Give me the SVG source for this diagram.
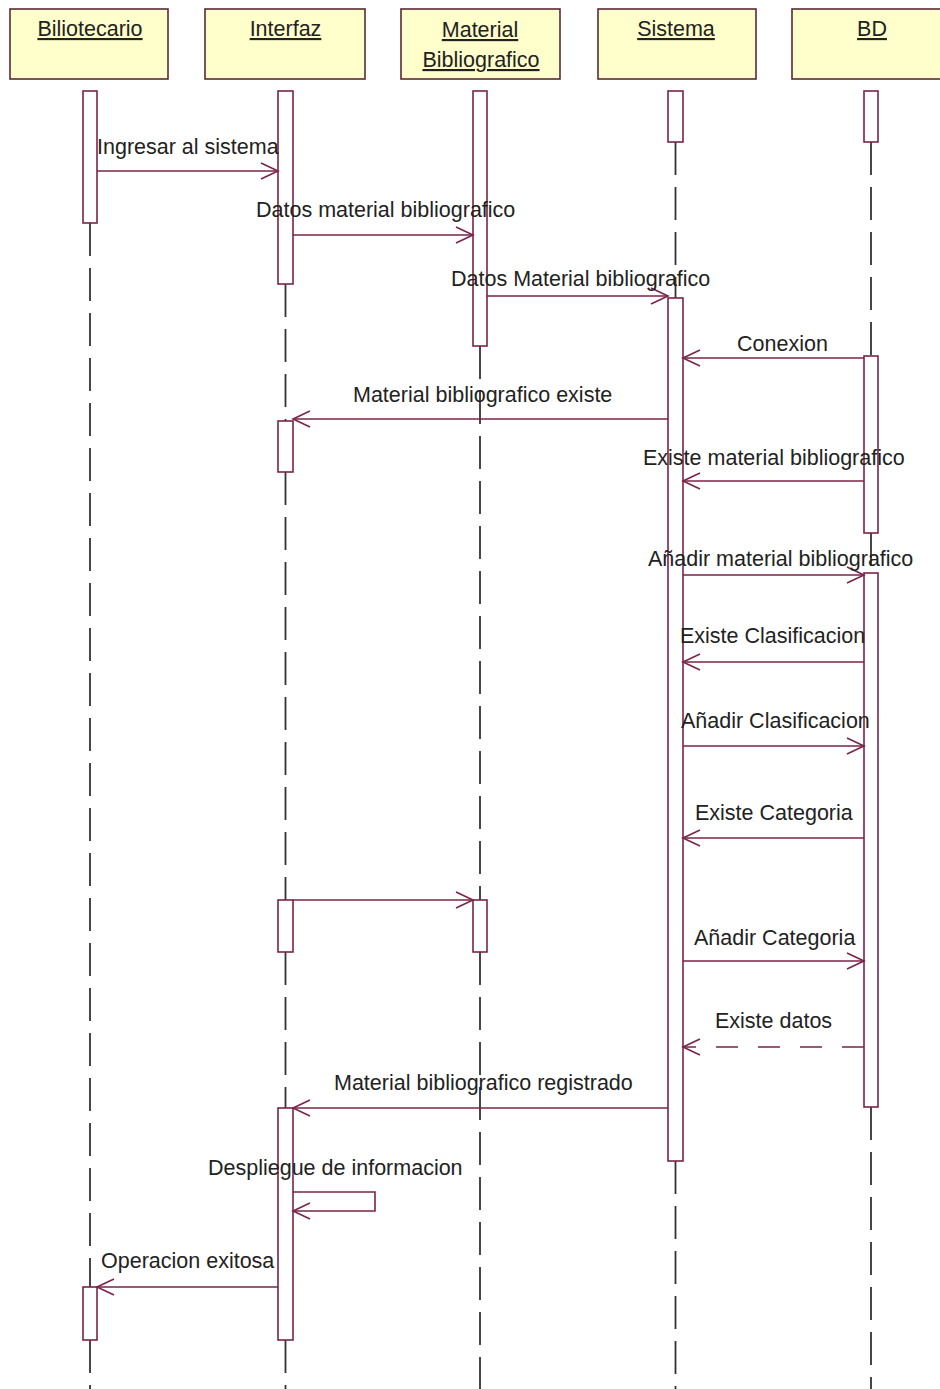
<svg xmlns="http://www.w3.org/2000/svg" width="940" height="1389" viewBox="0 0 940 1389">
<style>
.hdr{fill:#ffffcc;stroke:#5a2a35;stroke-width:1.6}
.act{fill:#ffffff;stroke:#7a2448;stroke-width:1.6}
.life{stroke:#333;stroke-width:1.8;stroke-dasharray:33 12;fill:none}
.msg{stroke:#7a2448;stroke-width:1.6;fill:none}
.ret{stroke:#7a2448;stroke-width:1.6;fill:none;stroke-dasharray:22 20}
text{font-family:"Liberation Sans",Arial,sans-serif;font-size:21.5px;fill:#222}
.ht{text-anchor:middle;text-decoration:underline}
</style>
<defs>
<marker id="ah" markerUnits="userSpaceOnUse" markerWidth="24" markerHeight="24" refX="0" refY="0" viewBox="-20 -12 24 24" orient="auto" overflow="visible">
<path d="M-17,-8 L0,0 L-17,8" fill="none" stroke="#7a2448" stroke-width="1.6"/>
</marker>
</defs>
<rect width="940" height="1389" fill="#ffffff"/>

<g id="lifelines">
<line class="life" x1="90" y1="223" x2="90" y2="1287"/>
<line class="life" x1="90" y1="1340" x2="90" y2="1389"/>
<line class="life" x1="285.5" y1="284" x2="285.5" y2="421"/>
<line class="life" x1="285.5" y1="472" x2="285.5" y2="900"/>
<line class="life" x1="285.5" y1="952" x2="285.5" y2="1108"/>
<line class="life" x1="285.5" y1="1340" x2="285.5" y2="1389"/>
<line class="life" x1="480" y1="346" x2="480" y2="900"/>
<line class="life" x1="480" y1="952" x2="480" y2="1389"/>
<line class="life" x1="675.5" y1="142" x2="675.5" y2="298"/>
<line class="life" x1="675.5" y1="1161" x2="675.5" y2="1389"/>
<line class="life" x1="871" y1="142" x2="871" y2="356"/>
<line class="life" x1="871" y1="533" x2="871" y2="573"/>
<line class="life" x1="871" y1="1107" x2="871" y2="1389"/>
</g>

<g id="biliotecario">
<rect class="hdr" x="10" y="9" width="158" height="70"/>
<text class="ht" x="90" y="36">Biliotecario</text>
<rect class="act" x="83" y="91" width="14" height="132"/>
<rect class="act" x="83" y="1287" width="14" height="53"/>
</g>

<g id="interfaz">
<rect class="hdr" x="205" y="9" width="160" height="70"/>
<text class="ht" x="285.5" y="36">Interfaz</text>
<rect class="act" x="278" y="91" width="15" height="193"/>
<rect class="act" x="278" y="421" width="15" height="51"/>
<rect class="act" x="278" y="900" width="15" height="52"/>
<rect class="act" x="278" y="1108" width="15" height="232"/>
</g>

<g id="material">
<rect class="hdr" x="401" y="9" width="159" height="70"/>
<text class="ht" x="480" y="37">Material </text>
<text class="ht" x="481" y="67">Bibliografico</text>
<rect class="act" x="473" y="91" width="14" height="255"/>
<rect class="act" x="473" y="900" width="14" height="52"/>
</g>

<g id="sistema">
<rect class="hdr" x="598" y="9" width="158" height="70"/>
<text class="ht" x="676" y="36">Sistema</text>
<rect class="act" x="668" y="91" width="15" height="51"/>
<rect class="act" x="668" y="298" width="15" height="863"/>
</g>

<g id="bd">
<rect class="hdr" x="792" y="9" width="160" height="70"/>
<text class="ht" x="872" y="36">BD</text>
<rect class="act" x="864" y="91" width="14" height="51"/>
<rect class="act" x="864" y="356" width="14" height="177"/>
<rect class="act" x="864" y="573" width="14" height="534"/>
</g>

<g id="connectors">
<line class="msg" x1="97" y1="171" x2="278" y2="171" marker-end="url(#ah)"/>
<line class="msg" x1="293" y1="235" x2="473" y2="235" marker-end="url(#ah)"/>
<line class="msg" x1="487" y1="296" x2="668" y2="296" marker-end="url(#ah)"/>
<line class="msg" x1="864" y1="358" x2="683" y2="358" marker-end="url(#ah)"/>
<line class="msg" x1="668" y1="419" x2="293" y2="419" marker-end="url(#ah)"/>
<line class="msg" x1="864" y1="481" x2="683" y2="481" marker-end="url(#ah)"/>
<line class="msg" x1="683" y1="575" x2="864" y2="575" marker-end="url(#ah)"/>
<line class="msg" x1="864" y1="662" x2="683" y2="662" marker-end="url(#ah)"/>
<line class="msg" x1="683" y1="746" x2="864" y2="746" marker-end="url(#ah)"/>
<line class="msg" x1="864" y1="838" x2="683" y2="838" marker-end="url(#ah)"/>
<line class="msg" x1="293" y1="900" x2="473" y2="900" marker-end="url(#ah)"/>
<line class="msg" x1="683" y1="961" x2="864" y2="961" marker-end="url(#ah)"/>
<line class="ret" x1="864" y1="1047" x2="683" y2="1047" marker-end="url(#ah)"/>
<line class="msg" x1="668" y1="1108" x2="293" y2="1108" marker-end="url(#ah)"/>
<polyline class="msg" points="293,1192 375,1192 375,1211 293,1211" marker-end="url(#ah)"/>
<line class="msg" x1="278" y1="1287" x2="97" y2="1287" marker-end="url(#ah)"/>
</g>

<g id="labels">
<text x="97" y="154">Ingresar al sistema</text>
<text x="256" y="217">Datos material bibliografico</text>
<text x="451" y="286">Datos Material bibliografico</text>
<text x="737" y="351">Conexion</text>
<text x="353" y="402">Material bibliografico existe</text>
<text x="643" y="465">Existe material bibliografico</text>
<text x="648" y="566">Añadir material bibliografico</text>
<text x="680" y="643">Existe Clasificacion</text>
<text x="681" y="728">Añadir Clasificacion</text>
<text x="695" y="820">Existe Categoria</text>
<text x="694" y="945">Añadir Categoria</text>
<text x="715" y="1028">Existe datos</text>
<text x="334" y="1090">Material bibliografico registrado</text>
<text x="208" y="1175">Despliegue de informacion</text>
<text x="101" y="1268">Operacion exitosa</text>
</g>
</svg>
